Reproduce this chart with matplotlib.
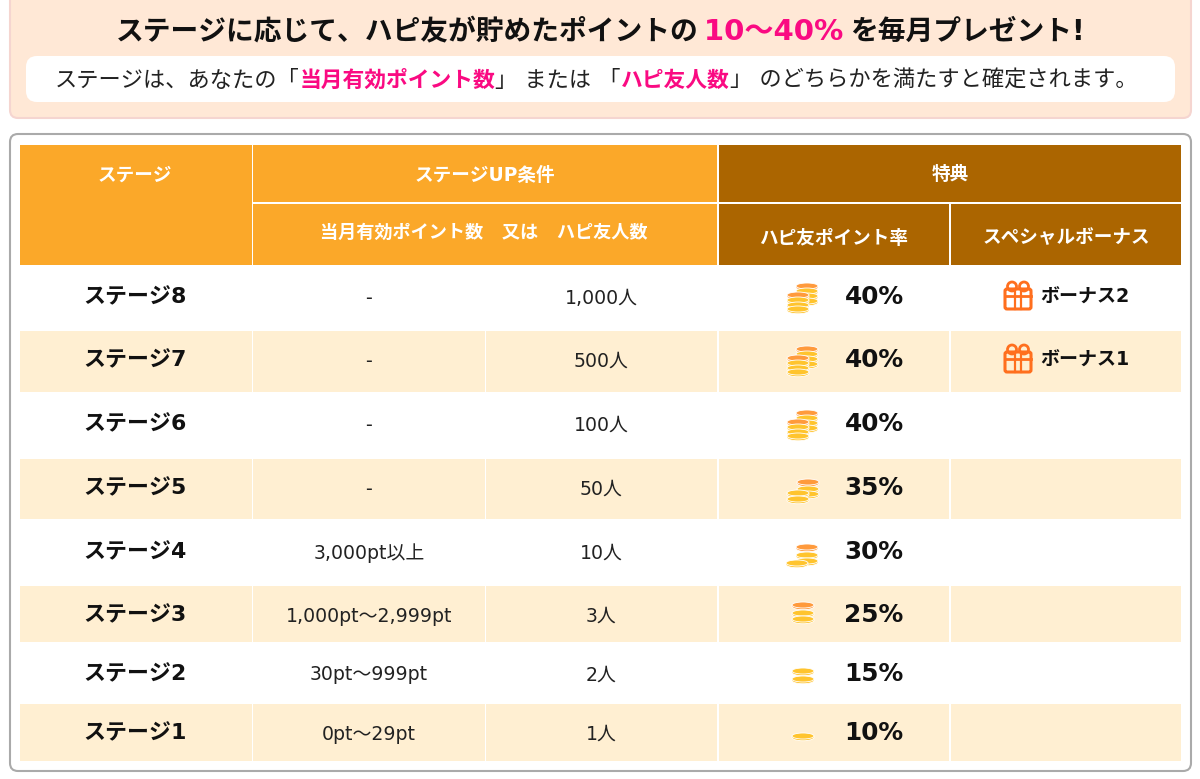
import matplotlib
matplotlib.use("Agg")
from matplotlib import pyplot as plt
from matplotlib.patches import Rectangle, FancyBboxPatch, Ellipse

plt.rcParams["font.family"] = ["DejaVu Sans", "Noto Sans CJK JP"]

stages = ["ステージ8", "ステージ7", "ステージ6", "ステージ5", "ステージ4", "ステージ3", "ステージ2", "ステージ1"]
points = ["-", "-", "-", "-", "3,000pt以上", "1,000pt～2,999pt", "30pt～999pt", "0pt～29pt"]
friends = ["1,000人", "500人", "100人", "50人", "10人", "3人", "2人", "1人"]
rates = ["40%", "40%", "40%", "35%", "30%", "25%", "15%", "10%"]
bonuses = ["ボーナス2", "ボーナス1", "", "", "", "", "", ""]

# layout in reference pixels
row_edges = [266, 331, 393, 459, 520, 586, 643, 704, 762]
text_y = [296, 359, 423, 487, 551, 614, 673, 732]
col_edges = [(20, 252), (253, 485), (486, 717), (719, 949), (951, 1181)]

ORANGE = "#fba829"
BROWN = "#ab6500"
CREAM = "#ffefd2"
PINK = "#fa0a82"
DARK = "#222222"

# coin stacks per row: (dx, dy, colour), drawn back to front
Y = "#ffc42e"
O = "#ff9a3c"
coin_stacks = {
    "40%": [(4, -12, O), (4, -7, Y), (4, -2, Y), (4, 3, Y), (-5, -3, O), (-5, 2, Y), (-5, 7, Y), (-5, 11, Y)],
    "35%": [(5, -7, O), (5, 0, Y), (5, 5, Y), (-5, 4, Y), (-5, 10, Y)],
    "30%": [(4, -6, O), (4, 2, Y), (4, 8, Y), (-6, 10, Y)],
    "25%": [(0, -11, O), (0, -3, Y), (0, 3, Y)],
    "15%": [(0, -4, Y), (0, 4, Y)],
    "10%": [(0, 2, Y)],
}

fig = plt.figure(figsize=(12, 7.79), dpi=100)
ax = fig.add_axes([0, 0, 1, 1])
ax.set_xlim(0, 1200)
ax.set_ylim(779, 0)
ax.axis("off")


def rect(x0, y0, x1, y1, color):
    ax.add_patch(Rectangle((x0, y0), x1 - x0, y1 - y0, facecolor=color, edgecolor="none"))


def rounded(x0, y0, x1, y1, face, edge, lw=1.5, r=8):
    ax.add_patch(FancyBboxPatch((x0 + r, y0 + r), x1 - x0 - 2 * r, y1 - y0 - 2 * r,
                                boxstyle=f"round,pad={r},rounding_size={r}",
                                facecolor=face, edgecolor=edge, linewidth=lw))


def mixed_text(segments, cx, y):
    # centre a run of differently styled pieces on one baseline
    renderer = fig.canvas.get_renderer()
    items = []
    for s, color, weight, size in segments:
        t = ax.text(0, y, s, color=color, fontweight=weight, fontsize=size, va="baseline", ha="left")
        items.append((t, t.get_window_extent(renderer).width))
    x = cx - sum(w for _, w in items) / 2
    for t, w in items:
        t.set_x(x)
        x += w


def coins(cx, cy, stack):
    for dx, dy, color in stack:
        ax.add_patch(Ellipse((cx + dx, cy + dy + 1.5), 22, 6.5, facecolor=color, edgecolor="white", linewidth=0.6))
        ax.add_patch(Ellipse((cx + dx, cy + dy), 22, 6, facecolor=color, edgecolor="white", linewidth=0.6))


def gift(cx, cy):
    c = "#ff6f1e"
    rounded(cx - 13, cy - 7, cx + 13, cy + 13, "none", c, lw=2.2, r=2)
    ax.plot([cx - 13, cx + 13], [cy, cy], color=c, lw=2)
    ax.plot([cx - 3, cx - 3], [cy - 7, cy + 13], color=c, lw=1.6)
    ax.plot([cx + 3, cx + 3], [cy - 7, cy + 13], color=c, lw=1.6)
    for dx in (-6, 6):
        ax.add_patch(Ellipse((cx + dx, cy - 9.5), 9, 9, facecolor="none", edgecolor=c, linewidth=2))


# top panel
rounded(10, -12, 1191, 118, "#ffe8d6", "#f5d5d0", lw=1.5, r=8)
rounded(26, 56, 1175, 102, "white", "none", lw=0, r=11)
mixed_text([("ステージに応じて、ハピ友が貯めたポイントの", "#111111", "bold", 20),
            ("\u200910～40%\u2009", PINK, "bold", 21),
            ("を毎月プレゼント!", "#111111", "bold", 20)], 600, 40)
mixed_text([("ステージは、あなたの「", DARK, "normal", 16),
            ("当月有効ポイント数", PINK, "bold", 15.7),
            ("」 または 「", DARK, "normal", 16),
            ("ハピ友人数", PINK, "bold", 15.7),
            ("」 のどちらかを満たすと確定されます。", DARK, "normal", 16)], 596, 87)

# table panel
rounded(10, 134, 1191, 771, "white", "#aaaaaa", lw=1.5, r=8)

# header cells
rect(20, 145, 252, 265, ORANGE)
rect(253, 145, 717, 202, ORANGE)
rect(253, 204, 717, 265, ORANGE)
rect(719, 145, 1181, 202, BROWN)
rect(719, 204, 949, 265, BROWN)
rect(951, 204, 1181, 265, BROWN)

head = dict(color="white", fontweight="bold", fontsize=13.4, ha="center", va="center")
ax.text(135, 175, "ステージ", **head)
ax.text(485, 175, "ステージUP条件", **head)
ax.text(484, 233, "当月有効ポイント数   又は   ハピ友人数", color="white", fontweight="bold", fontsize=13.1, ha="center", va="center")
ax.text(950, 174, "特典", **head)
ax.text(834, 238, "ハピ友ポイント率", **head)
ax.text(1066, 238, "スペシャルボーナス", **head)

# body rows
for i in range(len(stages)):
    y0, y1 = row_edges[i], row_edges[i + 1]
    y = text_y[i]
    if i % 2 == 1:
        for x0, x1 in col_edges:
            rect(x0, y0, x1, y1 - 1, CREAM)
    ax.text(135, y + 1, stages[i], color="#111111", fontweight="bold", fontsize=15.8, ha="center", va="center")
    ax.text(369, y + 2, points[i], color=DARK, fontsize=13.6, ha="center", va="center")
    ax.text(601, y + 2, friends[i], color=DARK, fontsize=13.6, ha="center", va="center")
    coins(803, y + 2, coin_stacks[rates[i]])
    ax.text(874, y + 1, rates[i], color="#111111", fontweight="bold", fontsize=17.8, ha="center", va="center")
    if bonuses[i]:
        gift(1018, y)
        ax.text(1085, y + 1, bonuses[i], color="#111111", fontweight="bold", fontsize=13.7, ha="center", va="center")

fig.savefig("out.png", dpi=100)
